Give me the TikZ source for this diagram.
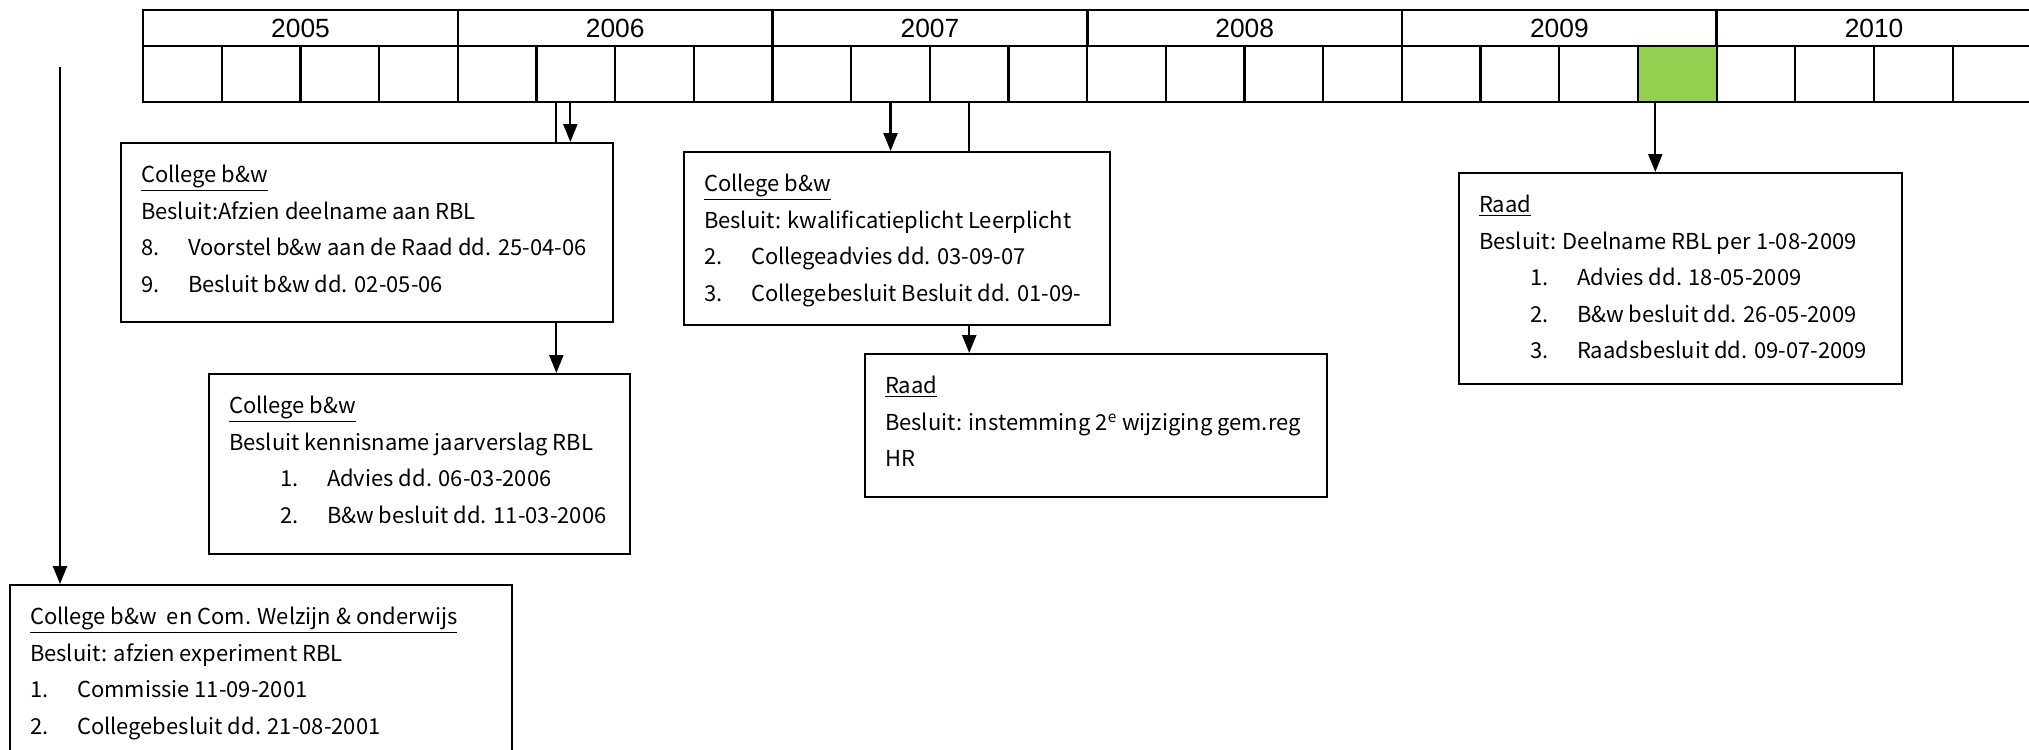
\documentclass[tikz,border=0pt]{standalone}
\usepackage{fontspec}
\setmainfont{Noto Sans CJK KR}
\newfontfamily\yearfont{Liberation Sans}
\usetikzlibrary{arrows.meta}
\definecolor{qgreen}{HTML}{92D050}
\tikzset{
  yearcell/.style={draw, line width=1.4pt, anchor=north west, minimum width=6.294cm,
    minimum height=0.72cm, inner sep=0pt, font=\yearfont\fontsize{15}{16}\selectfont},
  qcell/.style={draw, line width=1.3pt, anchor=north west, minimum width=1.5735cm,
    minimum height=1.12cm, inner sep=0pt},
  infobox/.style={draw, line width=1.2pt, fill=white, anchor=north west, inner xsep=0.4cm,
    inner ysep=0.44cm, font=\fontsize{12.5}{20.8}\selectfont},
  link/.style={line width=1.3pt},
  arr/.style={link, -{Triangle[length=0.36cm,width=0.28cm]}}
}
% numbered line inside a box
\newcommand{\itm}[3][0cm]{\hspace*{#1}\makebox[0.94cm][l]{#2}#3}
\newcommand{\boxbody}[3]{\parbox[t][#2][t]{#1}{#3}}

\begin{document}
\begin{tikzpicture}[x=0.02cm, y=-0.02cm]
\useasboundingbox (0,0) rectangle (2029,750);
\clip (0,0) rectangle (2029,750);

% timeline: years and quarters
\foreach \yr [count=\i from 0] in {2005,...,2010}
  \node[yearcell] (y\yr) at ({142+314.7*\i},9) {\yr};
\foreach \k in {1,...,24} {
  \ifnum\k=20 \def\qfill{qgreen}\else\def\qfill{white}\fi
  \node[qcell, fill=\qfill] (q\k) at ({142+78.675*(\k-1)},45) {};
}

% decision boxes
\node[infobox] (afzien) at (120,142) {\boxbody{9.04cm}{2.70cm}{%
  \underline{College b\&w}\\
  Besluit:Afzien deelname aan RBL\\
  \itm{8.}{Voorstel b\&w aan de Raad dd. 25-04-06}\\
  \itm{9.}{Besluit b\&w dd. 02-05-06}}};
\node[infobox] (jaarverslag) at (208,373) {\boxbody{7.62cm}{2.72cm}{%
  \underline{College b\&w}\\
  Besluit kennisname jaarverslag RBL\\
  \itm[1.02cm]{1.}{Advies dd. 06-03-2006}\\
  \itm[1.02cm]{2.}{B\&w besluit dd. 11-03-2006}}};
\node[infobox] (leerplicht) at (683,151) {\boxbody{7.72cm}{2.58cm}{%
  \underline{College b\&w}\\
  Besluit: kwalificatieplicht Leerplicht\\
  \itm{2.}{Collegeadvies dd. 03-09-07}\\
  \itm{3.}{Collegebesluit Besluit dd. 01-09-}}};
\node[infobox] (gemreg) at (864,353) {\boxbody{8.44cm}{1.98cm}{%
  \underline{Raad}\\
  Besluit: instemming 2\textsuperscript{e} wijziging gem.reg\\
  HR}};
\node[infobox] (deelname) at (1458,172) {\boxbody{8.06cm}{3.34cm}{%
  \underline{Raad}\\
  Besluit: Deelname RBL per 1-08-2009\\
  \itm[1.02cm]{1.}{Advies dd. 18-05-2009}\\
  \itm[1.02cm]{2.}{B\&w besluit dd. 26-05-2009}\\
  \itm[1.02cm]{3.}{Raadsbesluit dd. 09-07-2009}}};
\node[infobox] (experiment) at (9,584) {\boxbody{9.24cm}{3.52cm}{%
  \underline{College b\&w\ \ en Com. Welzijn \& onderwijs}\\
  Besluit: afzien experiment RBL\\
  \itm{1.}{Commissie 11-09-2001}\\
  \itm{2.}{Collegebesluit dd. 21-08-2001}}};

% connectors
\coordinate (c1) at ([xshift=-0.39cm]q6.south);
\coordinate (c2) at ([xshift=-0.11cm]q6.south);
\coordinate (c3) at ([xshift=-0.44cm]q20.south);
\coordinate (start) at (60,67);
\draw[link] (c1) -- (c1 |- afzien.north);
\draw[arr] (c2) -- (c2 |- afzien.north);
\draw[arr] (c1 |- afzien.south) -- (c1 |- jaarverslag.north);
\draw[arr] (q10.south) -- (q10.south |- leerplicht.north);
\draw[link] (q11.south) -- (q11.south |- leerplicht.north);
\draw[arr] (q11.south |- leerplicht.south) -- (q11.south |- gemreg.north);
\draw[arr] (c3) -- (c3 |- deelname.north);
\draw[arr] (start) -- (start |- experiment.north);
\end{tikzpicture}
\end{document}
